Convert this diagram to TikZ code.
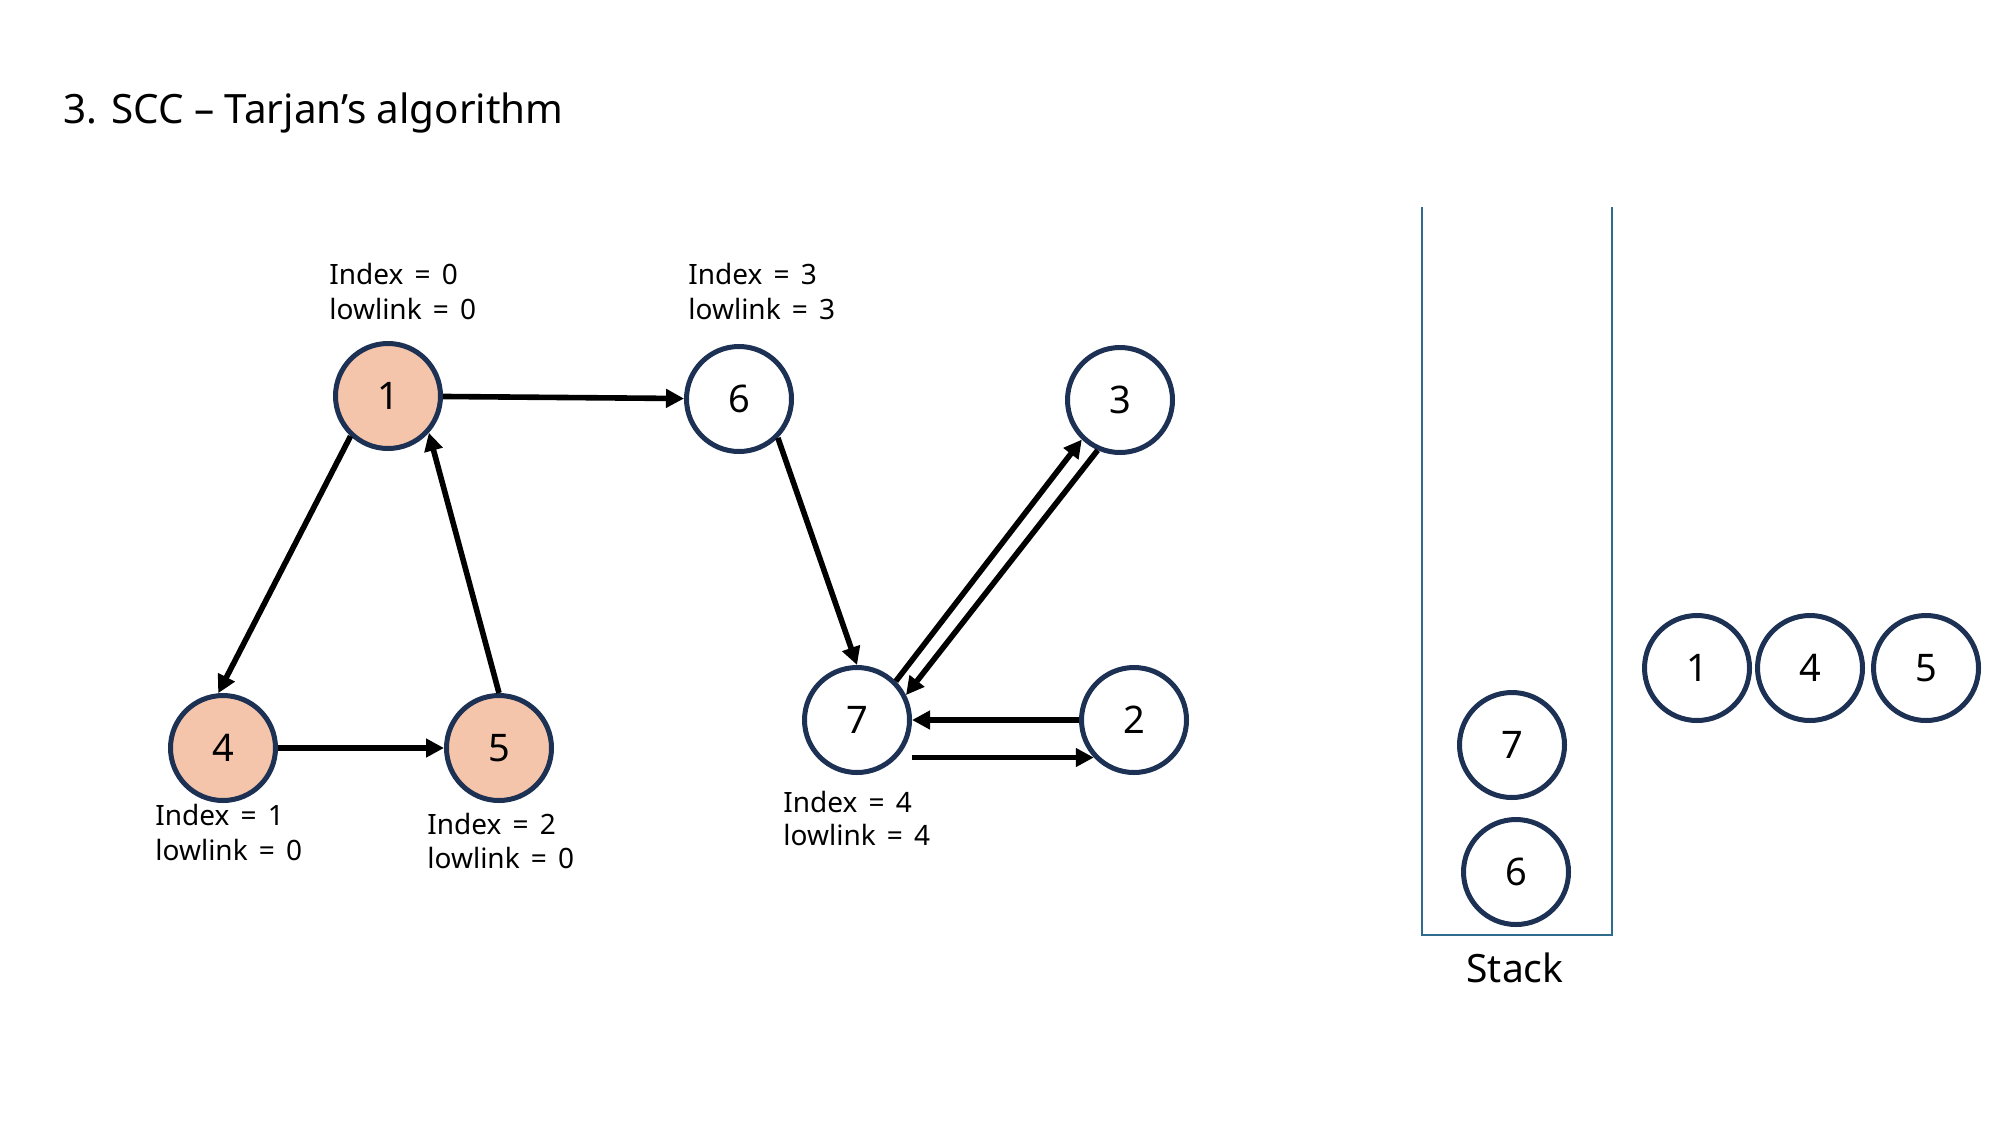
\documentclass[tikz,border=0pt]{standalone}
\usepackage{fontspec}
\setmainfont{Noto Sans}
\usetikzlibrary{arrows.meta,calc}
\definecolor{navy}{HTML}{1C3153}
\definecolor{peach}{HTML}{F5C5AB}
\definecolor{stackblue}{HTML}{2E6B8C}
\begin{document}
\begin{tikzpicture}[x=0.5pt,y=-0.5pt,
  vert/.style={circle,draw=navy,line width=2.5pt,minimum size=52.5pt,inner sep=0pt,font=\fontsize{19}{22}\selectfont},
  done/.style={vert,fill=peach},
  arr/.style={line width=2.8pt,-{Triangle[length=9pt,width=9pt]}},
  info/.style={anchor=base west,inner sep=0pt,font=\fontsize{14}{17}\selectfont,execute at begin node={\spaceskip=5.6pt plus 1pt\relax}},
]
\useasboundingbox (0,0) rectangle (2000,1125);
\fill[white] (0,0) rectangle (2000,1125);

\node[anchor=base west,inner sep=0pt,font=\fontsize{20.2}{24}\selectfont] (title) at (63,123) {3. SCC – Tarjan’s algorithm};

% graph vertices
\node[done] (n1) at (388,396) {1};
\node[vert] (n6) at (739,399) {6};
\node[done] (n4) at (223,748) {4};
\node[done] (n5) at (499,748) {5};
\node[vert] (n7) at (857,720) {7};
\node[vert] (n3) at (1120,400) {3};
\node[vert] (n2) at (1134,720) {2};

% labels
\node[info] (l1a) at (329,284) {Index = 0};
\node[info] (l1b) at (329,319) {lowlink = 0};
\node[info] (l6a) at (688,284) {Index = 3};
\node[info] (l6b) at (688,319) {lowlink = 3};
\node[info] (l4a) at (155,825) {Index = 1};
\node[info] (l4b) at (155,860) {lowlink = 0};
\node[info] (l5a) at (427,834) {Index = 2};
\node[info] (l5b) at (427,868) {lowlink = 0};
\node[info] (l7a) at (783,812) {Index = 4};
\node[info] (l7b) at (783,845) {lowlink = 4};

% edges
\draw[arr] (n1) -- (n6);
\draw[arr] (n1.227) -- (n4.95);
\draw[arr] (n5.north) -- (n1.318);
\draw[arr] (n4) -- (n5);
\draw[arr] (n6.315) -- (n7.north);
\draw[arr] (n7.45) -- (n3.226);
\draw[arr] (n3.246) -- (n7.27);
\draw[arr] (n2) -- (n7);
\draw[arr] (n7.east |- n2.223) -- (n2.223);

% stack
\draw[stackblue,line width=1.2pt] (1422,207) -- (1422,935) -- (1612,935) -- (1612,207);
\node[vert] (s7) at (1512,745) {7};
\node[vert] (s6) at (1516,872) {6};
\node[anchor=base,inner sep=0pt,font=\fontsize{19.5}{23}\selectfont] (stacklbl) at (1515,982) {Stack};

% popped SCC
\node[vert] (p1) at (1697,668) {1};
\node[vert] (p4) at (1810,668) {4};
\node[vert] (p5) at (1926,668) {5};
\end{tikzpicture}
\end{document}
